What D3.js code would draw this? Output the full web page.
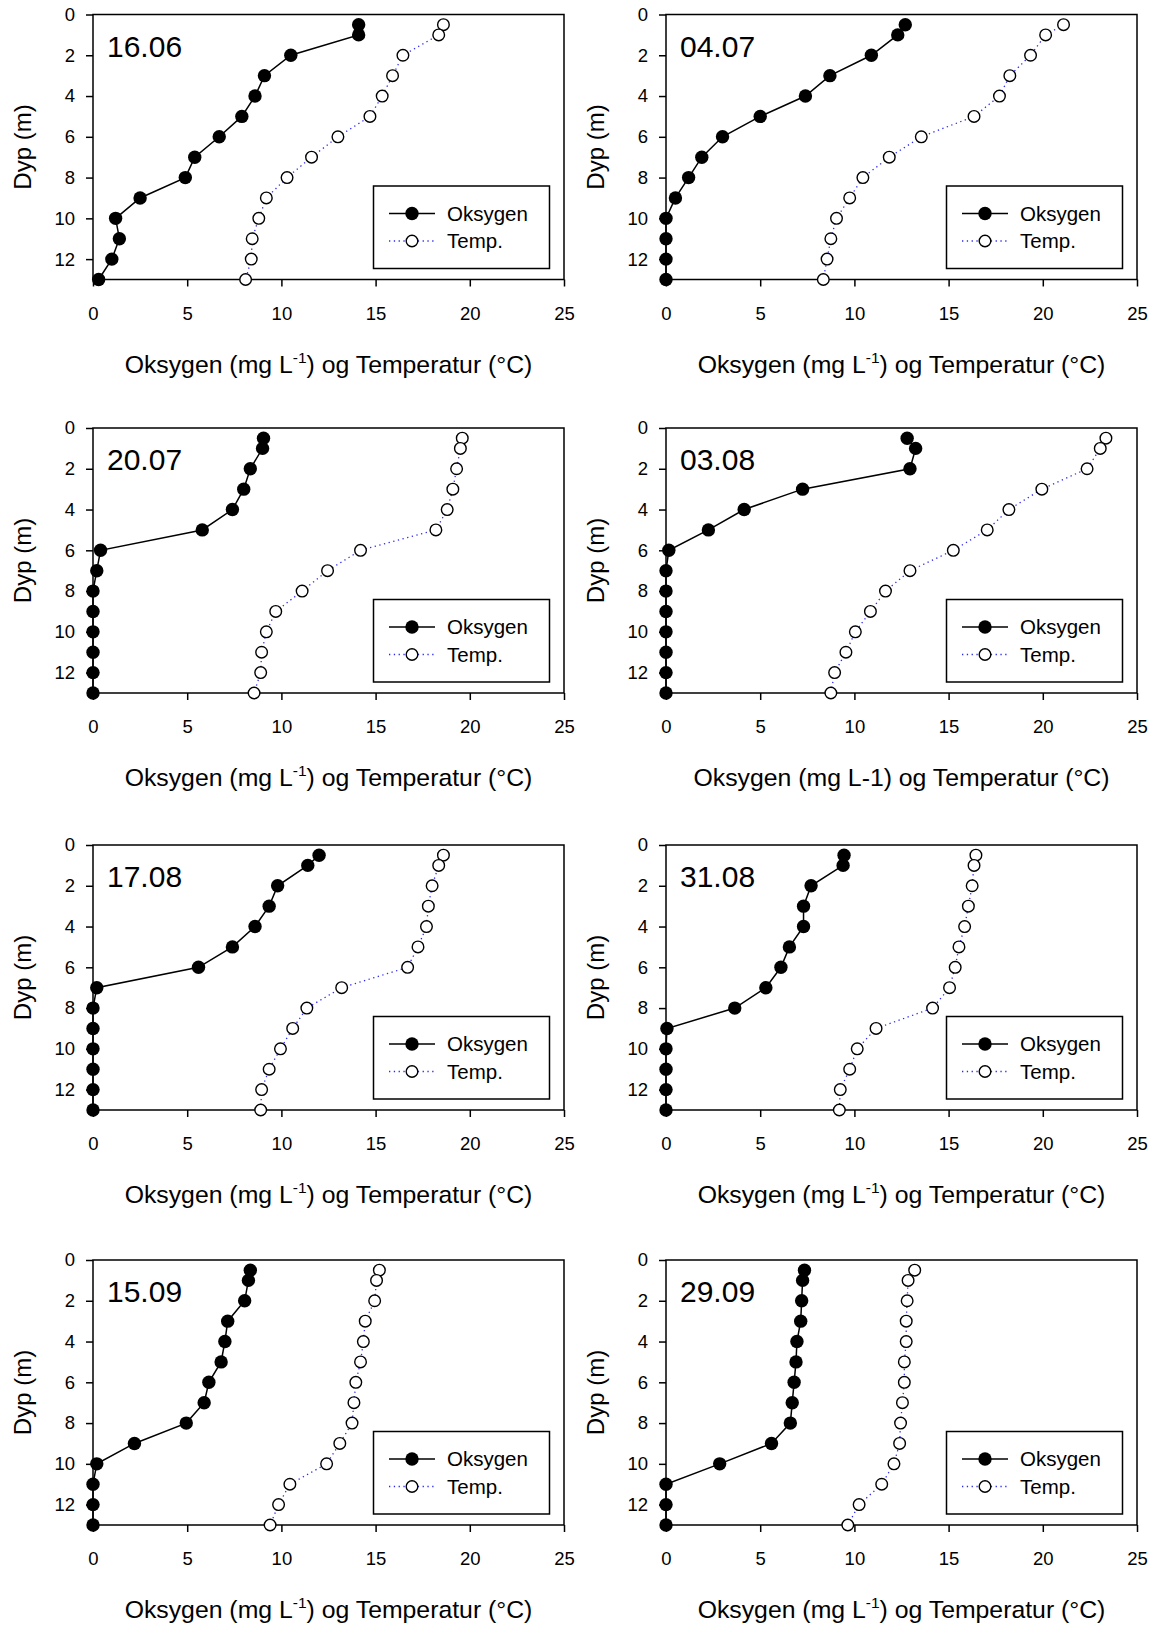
<!DOCTYPE html>
<html>
<head>
<meta charset="utf-8">
<script src="https://cdn.jsdelivr.net/npm/d3@7/dist/d3.min.js"></script>
<style>
  body { margin: 0; background: #fff; }
  svg { display: block; }
  text { font-family: Arial, 'Liberation Sans', sans-serif; }
</style>
</head>
<body>
<svg id="chart" width="1155" height="1625"></svg>
<script>
// depth of each sample (m)
const depths = [0.5, 1, 2, 3, 4, 5, 6, 7, 8, 9, 10, 11, 12, 13];

const dates = ['16.06', '04.07', '20.07', '03.08', '17.08', '31.08', '15.09', '29.09'];

// oxygen (mg/L) per date
const oxy1606 = [14.1, 14.1, 10.5, 9.1, 8.6, 7.9, 6.7, 5.4, 4.9, 2.5, 1.2, 1.4, 1.0, 0.3];
const oxy0407 = [12.7, 12.3, 10.9, 8.7, 7.4, 5.0, 3.0, 1.9, 1.2, 0.5, 0, 0, 0, 0];
const oxy2007 = [9.05, 9.0, 8.35, 8.0, 7.4, 5.8, 0.4, 0.2, 0, 0, 0, 0, 0, 0];
const oxy0308 = [12.8, 13.25, 12.95, 7.25, 4.15, 2.25, 0.15, 0, 0, 0, 0, 0, 0, 0];
const oxy1708 = [12.0, 11.4, 9.8, 9.35, 8.6, 7.4, 5.6, 0.2, 0, 0, 0, 0, 0, 0];
const oxy3108 = [9.45, 9.4, 7.7, 7.3, 7.3, 6.55, 6.1, 5.3, 3.65, 0.05, 0, 0, 0, 0];
const oxy1509 = [8.35, 8.25, 8.05, 7.15, 7.0, 6.8, 6.15, 5.9, 4.95, 2.2, 0.2, 0, 0, 0];
const oxy2909 = [7.35, 7.25, 7.2, 7.15, 6.95, 6.9, 6.8, 6.7, 6.6, 5.6, 2.85, 0, 0, 0];

// temperature (deg C) per date
const temp1606 = [18.6, 18.35, 16.45, 15.9, 15.35, 14.7, 13.0, 11.6, 10.3, 9.2, 8.8, 8.45, 8.4, 8.1];
const temp0407 = [21.1, 20.15, 19.35, 18.25, 17.7, 16.35, 13.55, 11.85, 10.45, 9.75, 9.05, 8.75, 8.55, 8.35];
const temp2007 = [19.6, 19.5, 19.3, 19.1, 18.8, 18.2, 14.2, 12.45, 11.1, 9.7, 9.2, 8.95, 8.9, 8.55];
const temp0308 = [23.35, 23.05, 22.35, 19.95, 18.2, 17.05, 15.25, 12.95, 11.65, 10.85, 10.05, 9.55, 8.95, 8.75];
const temp1708 = [18.6, 18.35, 18.0, 17.8, 17.7, 17.25, 16.7, 13.2, 11.35, 10.6, 9.95, 9.35, 8.95, 8.9];
const temp3108 = [16.45, 16.35, 16.25, 16.05, 15.85, 15.55, 15.35, 15.05, 14.15, 11.15, 10.15, 9.75, 9.25, 9.2];
const temp1509 = [15.2, 15.05, 14.95, 14.45, 14.35, 14.2, 13.95, 13.85, 13.75, 13.1, 12.4, 10.45, 9.85, 9.4];
const temp2909 = [13.2, 12.85, 12.8, 12.75, 12.75, 12.65, 12.65, 12.55, 12.45, 12.4, 12.1, 11.45, 10.25, 9.65];

// the 03.08 panel writes the unit as plain "L-1"
const plainUnit = [false, false, false, true, false, false, false, false];

const xTicks = [0, 5, 10, 15, 20, 25];
const yTicks = [0, 2, 4, 6, 8, 10, 12];

const oxygenSeries = [oxy1606, oxy0407, oxy2007, oxy0308, oxy1708, oxy3108, oxy1509, oxy2909];
const tempSeries = [temp1606, temp0407, temp2007, temp0308, temp1708, temp3108, temp1509, temp2909];

const svg = d3.select('#chart');
svg.append('rect').attr('width', 1155).attr('height', 1625).attr('fill', '#fff');

const w = 471;
const h = 265;
const colX = [93, 666];
const rowY = [14.5, 428, 845, 1260];

const x = d3.scaleLinear().domain([0, 25]).range([0, w]);
const y = d3.scaleLinear().domain([0, 13]).range([0, h]);

const tempColor = '#2b2bf0';

const drawPanel = (i) => {
  const g = svg.append('g')
    .attr('transform', `translate(${colX[i % 2]},${rowY[Math.floor(i / 2)]})`);

  const oxy = depths.map((d, k) => ({ depth: d, v: oxygenSeries[i][k] }));
  const temp = depths.map((d, k) => ({ depth: d, v: tempSeries[i][k] }));

  // axes
  const xAxis = g.append('g')
    .attr('transform', `translate(0,${h})`)
    .call(d3.axisBottom(x).tickValues(xTicks).tickSize(7).tickSizeOuter(0).tickPadding(20));
  const yAxis = g.append('g')
    .call(d3.axisLeft(y).tickValues(yTicks).tickSize(7).tickSizeOuter(0).tickPadding(11));
  [xAxis, yAxis].forEach((a) => {
    a.select('.domain').remove();
    a.attr('font-size', 18.5).attr('font-family', 'Arial, Liberation Sans, sans-serif');
    a.selectAll('line').attr('stroke', '#000').attr('stroke-width', 1.5);
    a.selectAll('text').attr('fill', '#000');
  });

  // frame
  g.append('rect')
    .attr('width', w)
    .attr('height', h)
    .attr('fill', 'none')
    .attr('stroke', '#000')
    .attr('stroke-width', 1.5);

  const line = d3.line().x(d => x(d.v)).y(d => y(d.depth));

  g.append('path')
    .datum(oxy)
    .attr('d', line)
    .attr('fill', 'none')
    .attr('stroke', '#000')
    .attr('stroke-width', 1.5);

  g.append('path')
    .datum(temp)
    .attr('d', line)
    .attr('fill', 'none')
    .attr('stroke', tempColor)
    .attr('stroke-width', 1.3)
    .attr('stroke-dasharray', '1.3,3.5');

  g.selectAll('.oxy')
    .data(oxy)
    .enter().append('circle')
    .attr('class', 'oxy')
    .attr('cx', d => x(d.v))
    .attr('cy', d => y(d.depth))
    .attr('r', 6.7)
    .attr('fill', '#000');

  g.selectAll('.temp')
    .data(temp)
    .enter().append('circle')
    .attr('class', 'temp')
    .attr('cx', d => x(d.v))
    .attr('cy', d => y(d.depth))
    .attr('r', 5.8)
    .attr('fill', '#fff')
    .attr('stroke', '#000')
    .attr('stroke-width', 1.4);

  // date label
  g.append('text')
    .attr('x', 14)
    .attr('y', 42)
    .attr('font-size', 30)
    .text(dates[i]);

  // legend
  const lg = g.append('g').attr('transform', 'translate(280.5,171.5)');
  lg.append('rect')
    .attr('width', 176)
    .attr('height', 82.5)
    .attr('fill', '#fff')
    .attr('stroke', '#000')
    .attr('stroke-width', 1.5);
  lg.append('line')
    .attr('x1', 15.5).attr('x2', 61.5)
    .attr('y1', 27.5).attr('y2', 27.5)
    .attr('stroke', '#000')
    .attr('stroke-width', 1.5);
  lg.append('circle')
    .attr('cx', 38.5).attr('cy', 27.5).attr('r', 6.7)
    .attr('fill', '#000');
  lg.append('line')
    .attr('x1', 15.5).attr('x2', 61.5)
    .attr('y1', 55).attr('y2', 55)
    .attr('stroke', tempColor)
    .attr('stroke-width', 1.3)
    .attr('stroke-dasharray', '1.3,3.5');
  lg.append('circle')
    .attr('cx', 38.5).attr('cy', 55).attr('r', 5.8)
    .attr('fill', '#fff')
    .attr('stroke', '#000')
    .attr('stroke-width', 1.4);
  lg.append('text')
    .attr('x', 73.5).attr('y', 27.5).attr('dy', '0.35em')
    .attr('font-size', 20.5)
    .text('Oksygen');
  lg.append('text')
    .attr('x', 73.5).attr('y', 55).attr('dy', '0.35em')
    .attr('font-size', 20.5)
    .text('Temp.');

  // axis titles
  const xt = g.append('text')
    .attr('x', w / 2)
    .attr('y', h + 93)
    .attr('font-size', 24.8)
    .style('text-anchor', 'middle');
  if (plainUnit[i]) {
    xt.text('Oksygen (mg L-1) og Temperatur (\u00B0C)');
  } else {
    xt.append('tspan').text('Oksygen (mg L');
    xt.append('tspan').attr('dy', -10).attr('font-size', 15.5).text('-1');
    xt.append('tspan').attr('dy', 10).text(') og Temperatur (\u00B0C)');
  }

  g.append('text')
    .attr('transform', `translate(-62,${h / 2}) rotate(-90)`)
    .attr('font-size', 24)
    .style('text-anchor', 'middle')
    .text('Dyp (m)');
};

dates.forEach((d, i) => drawPanel(i));
</script>
</body>
</html>
